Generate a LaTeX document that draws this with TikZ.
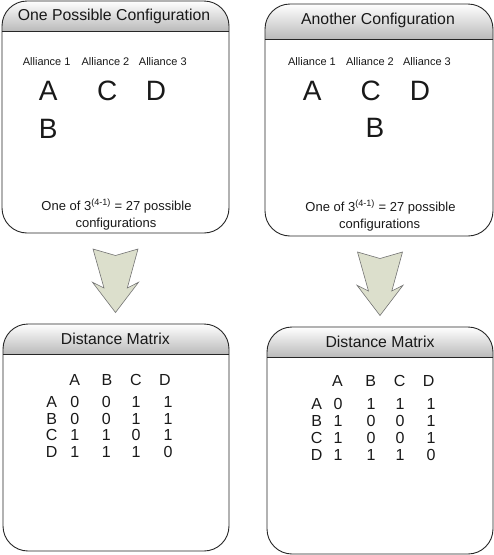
\documentclass[tikz,border=0pt]{standalone}
\usepackage{fontspec}
\setmainfont{Liberation Sans}
\newcommand\cfgbox[5]{%
  \begin{scope}
    \clip[rounded corners=25pt] (#1,#2) rectangle (#3,#4);
    \shade[top color=white,bottom color=black!27] (#1,#2) rectangle (#3,#5);
  \end{scope}
  \draw[boxline] (#1,#2) rectangle (#3,#4);
  \draw[divline] (#1,#5) -- (#3,#5);}
\newcommand\blockarrow[2]{%
  \draw[arrowshape] (#1-22.5,#2) -- (#1,#2+6.5) -- (#1+22.5,#2) -- (#1+11.8,#2+39)
    -- (#1+23,#2+33.3) -- (#1,#2+63.5) -- (#1-23,#2+33.3) -- (#1-11.5,#2+39) -- cycle;}
\begin{document}
\begin{tikzpicture}[x=1pt,y=-1pt,
  boxline/.style={draw=black!85,line width=0.9pt,rounded corners=25pt},
  divline/.style={draw=black!85,line width=0.9pt},
  arrowshape/.style={fill={rgb,255:red,220;green,223;blue,204},draw=black!55,line width=0.6pt,line join=miter},
  txt/.style={anchor=base,inner sep=0pt,text=black!90},
  hdr/.style={txt,font=\fontsize{15.8}{19}\selectfont},
  ali/.style={txt,font=\fontsize{11}{13}\selectfont},
  big/.style={txt,font=\fontsize{28}{32}\selectfont},
  note/.style={txt,font=\fontsize{13}{16}\selectfont},
  mtx/.style={txt,font=\fontsize{16}{19}\selectfont}]
\useasboundingbox (0,0) rectangle (494,555);

% boxes
\cfgbox{2}{1}{229}{233}{31}
\cfgbox{265}{4}{493}{236}{39}
\cfgbox{3}{324}{229}{551}{354}
\cfgbox{267}{327}{493}{554}{357}

% arrows
\blockarrow{115.5}{249}
\blockarrow{380}{252}

% top-left box
\node[hdr] (h1) at (114,20.7) {One Possible Configuration};
\node[ali] (a11) at (46.7,65.3) {Alliance 1};
\node[ali] (a12) at (105.5,65.3) {Alliance 2};
\node[ali] (a13) at (162.8,65.3) {Alliance 3};
\node[big] (lA1) at (48.3,100.7) {A};
\node[big] (lC1) at (107.3,100.7) {C};
\node[big] (lD1) at (156,100.7) {D};
\node[big] (lB1) at (48.3,138.3) {B};
\node[note] (n1a) at (116.5,210) {One of 3\textsuperscript{(4-1)} = 27 possible};
\node[note] (n1b) at (116,227.3) {configurations};

% top-right box
\node[hdr] (h2) at (378,24.3) {Another Configuration};
\node[ali] (a21) at (312,65) {Alliance 1};
\node[ali] (a22) at (370,65) {Alliance 2};
\node[ali] (a23) at (427,65) {Alliance 3};
\node[big] (lA2) at (312.3,100) {A};
\node[big] (lC2) at (370.7,100) {C};
\node[big] (lD2) at (420,100) {D};
\node[big] (lB2) at (375,137.7) {B};
\node[note] (n2a) at (380.5,211) {One of 3\textsuperscript{(4-1)} = 27 possible};
\node[note] (n2b) at (379.7,228.3) {configurations};

% bottom-left box
\node[hdr] (h3) at (115.3,344.3) {Distance Matrix};
\foreach \xx/\t [count=\c] in {74.7/A,107/B,136/C,165/D}
  \node[mtx] (m1h\c) at (\xx,385) {\t};
\foreach \yy/\t [count=\r] in {407.3/A,424/B,440.7/C,457.3/D}
  \node[mtx] (m1r\r) at (51.7,\yy) {\t};
\foreach \xx/\v [count=\c] in {74.7/0,106.3/0,136/1,168/1}
  \node[mtx] (m1a\c) at (\xx,407.3) {\v};
\foreach \xx/\v [count=\c] in {74.7/0,106.3/0,136/1,168/1}
  \node[mtx] (m1b\c) at (\xx,424) {\v};
\foreach \xx/\v [count=\c] in {74.7/1,106.3/1,136/0,168/1}
  \node[mtx] (m1c\c) at (\xx,440.7) {\v};
\foreach \xx/\v [count=\c] in {74.7/1,106.3/1,136/1,168/0}
  \node[mtx] (m1d\c) at (\xx,457.3) {\v};

% bottom-right box
\node[hdr] (h4) at (380,347.3) {Distance Matrix};
\foreach \xx/\t [count=\c] in {337.5/A,370.8/B,399.7/C,428.7/D}
  \node[mtx] (m2h\c) at (\xx,386.7) {\t};
\foreach \yy/\t [count=\r] in {409.3/A,426.7/B,443.3/C,460.7/D}
  \node[mtx] (m2r\r) at (316.7,\yy) {\t};
\foreach \xx/\v [count=\c] in {338/0,371/1,400/1,431/1}
  \node[mtx] (m2a\c) at (\xx,409.3) {\v};
\foreach \xx/\v [count=\c] in {338/1,371/0,400/0,431/1}
  \node[mtx] (m2b\c) at (\xx,426.7) {\v};
\foreach \xx/\v [count=\c] in {338/1,371/0,400/0,431/1}
  \node[mtx] (m2c\c) at (\xx,443.3) {\v};
\foreach \xx/\v [count=\c] in {338/1,371/1,400/1,431/0}
  \node[mtx] (m2d\c) at (\xx,460.7) {\v};
\end{tikzpicture}
\end{document}
